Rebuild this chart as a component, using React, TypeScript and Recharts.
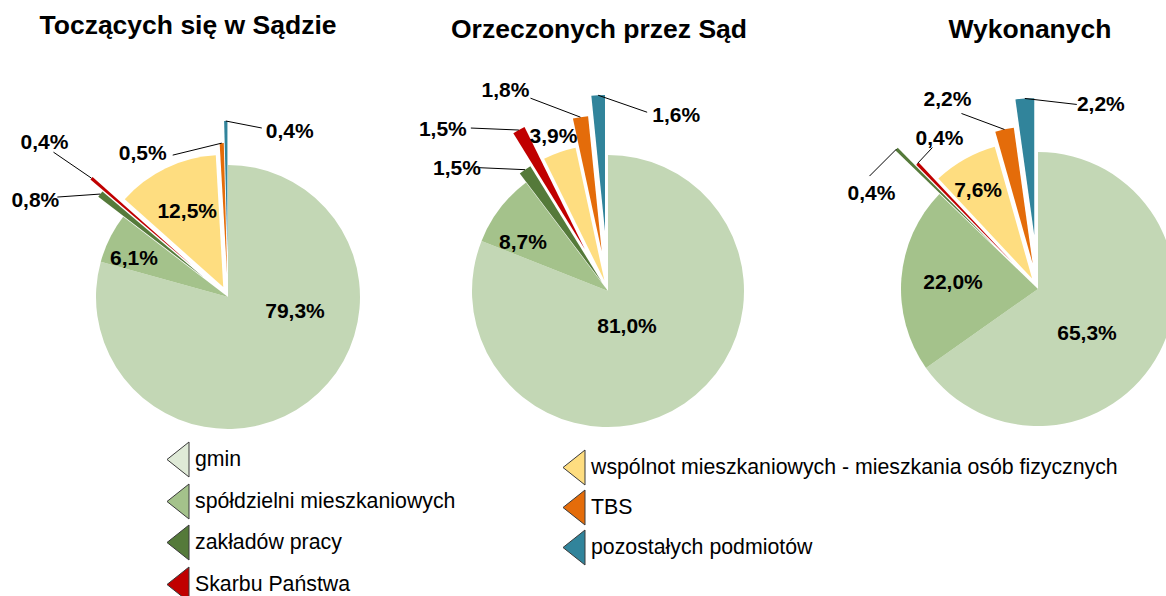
import React from 'react'
import { PieChart, Pie, Cell, Sector } from 'recharts'

const categories = [
  'gmin',
  'spółdzielni mieszkaniowych',
  'zakładów pracy',
  'Skarbu Państwa',
  'wspólnot mieszkaniowych - mieszkania osób fizycznych',
  'TBS',
  'pozostałych podmiotów',
]
const titles = ['Toczących się w Sądzie', 'Orzeczonych przez Sąd', 'Wykonanych']
const toczacych = [79.3, 6.1, 0.8, 0.4, 12.5, 0.5, 0.4]
const orzeczonych = [81.0, 8.7, 1.5, 1.5, 3.9, 1.8, 1.6]
const wykonanych = [65.3, 22.0, 0.4, 0.4, 7.6, 2.2, 2.2]

const COLORS = ['#c3d7b5', '#a4c28b', '#557a3a', '#c00000', '#fedd80', '#e46c0a', '#31849b']
const LEGEND_COLORS = ['#dfead7', '#a4c28b', '#557a3a', '#c00000', '#fedd80', '#e46c0a', '#31849b']

const FONT = '"Liberation Sans", Arial, sans-serif'

// placement of each pie, how far each slice is pulled out, and where its label sits
type LabelPos = { at: 'center' | 'tip'; dx: number; dy: number; line?: [number, number] }
type Layout = { cx: number; cy: number; r: number; titleX: number; titleY: number; explode: number[]; labels: LabelPos[] }

const layouts: Layout[] = [
  {
    cx: 228, cy: 297, r: 132, titleX: 188, titleY: 34,
    explode: [0, 0, 32, 49, 11, 22, 44],
    labels: [
      { at: 'center', dx: 67, dy: 13 },
      { at: 'center', dx: -94, dy: -40 },
      { at: 'tip', dx: -65, dy: 5, line: [-43, 3] },
      { at: 'tip', dx: -47, dy: -37, line: [-38, -26] },
      { at: 'center', dx: -36, dy: -77 },
      { at: 'tip', dx: -79, dy: 9, line: [-49, 12] },
      { at: 'tip', dx: 64, dy: 9, line: [36, 7] },
    ],
  },
  {
    cx: 608, cy: 291, r: 136, titleX: 599, titleY: 38,
    explode: [0, 0, 11, 48, 11, 40, 60],
    labels: [
      { at: 'center', dx: 19, dy: 34 },
      { at: 'center', dx: -85, dy: -50 },
      { at: 'tip', dx: -68, dy: -2, line: [-46, -2] },
      { at: 'tip', dx: -76, dy: -2, line: [-48, -2] },
      { at: 'tip', dx: -6, dy: -17 },
      { at: 'tip', dx: -75, dy: -28, line: [-50, -19] },
      { at: 'tip', dx: 78, dy: 19, line: [49, 17] },
    ],
  },
  {
    cx: 1038, cy: 289, r: 137, titleX: 1030, titleY: 38,
    explode: [0, 0, 62, 37, 12, 26, 54],
    labels: [
      { at: 'center', dx: 49, dy: 43 },
      { at: 'center', dx: -85, dy: -8 },
      { at: 'tip', dx: -25, dy: 43, line: [-27, 27] },
      { at: 'tip', dx: 22, dy: -26, line: [15, -16] },
      { at: 'center', dx: -54, dy: -89 },
      { at: 'tip', dx: -57, dy: -31, line: [-43, -16] },
      { at: 'tip', dx: 76, dy: 5, line: [52, 6] },
    ],
  },
]

const series = [toczacych, orzeczonych, wykonanych]
const RAD = Math.PI / 180

const fmt = (v: number) => v.toFixed(1).replace('.', ',') + '%'

// pulls a slice out along its middle angle
const makeShape = (explode: number[]) => (props: any) => {
  const idx = props.payload?.i ?? props.i ?? 0
  const e = explode[idx] || 0
  const a = props.midAngle * RAD
  return (
    <Sector
      cx={props.cx + e * Math.cos(a)}
      cy={props.cy - e * Math.sin(a)}
      innerRadius={0}
      outerRadius={props.outerRadius}
      startAngle={props.startAngle}
      endAngle={props.endAngle}
      fill={props.fill}
      stroke="none"
    />
  )
}

const makeLabel = (layout: Layout) => (props: any) => {
  const { cx, cy, midAngle, outerRadius, index, value } = props
  const e = layout.explode[index] || 0
  const a = midAngle * RAD
  const ax = cx + e * Math.cos(a)
  const ay = cy - e * Math.sin(a)
  const tx = ax + outerRadius * Math.cos(a)
  const ty = ay - outerRadius * Math.sin(a)
  const pos = layout.labels[index]
  const bx = pos.at === 'center' ? ax : tx
  const by = pos.at === 'center' ? ay : ty
  return (
    <g key={`lbl-${index}`}>
      {pos.line && (
        <line x1={tx} y1={ty} x2={tx + pos.line[0]} y2={ty + pos.line[1]} stroke="#000" strokeWidth={1} />
      )}
      <text
        x={bx + pos.dx}
        y={by + pos.dy}
        textAnchor="middle"
        dominantBaseline="central"
        fontFamily={FONT}
        fontWeight="bold"
        fontSize={21}
        fill="#000"
      >
        {fmt(value)}
      </text>
    </g>
  )
}

function Triangle({ color }: { color: string }) {
  return (
    <svg width={24} height={37} style={{ display: 'block', flex: 'none' }}>
      <polygon points="23,1 23,36 1,18.5" fill={color} stroke="#3a3a3a" strokeWidth={1} />
    </svg>
  )
}

function LegendColumn({ items, left, top, rowH }: { items: number[]; left: number; top: number; rowH: number }) {
  return (
    <div style={{ position: 'absolute', left, top }}>
      {items.map((i) => (
        <div key={i} style={{ display: 'flex', alignItems: 'center', height: rowH }}>
          <Triangle color={LEGEND_COLORS[i]} />
          <span style={{ marginLeft: 5, fontFamily: FONT, fontSize: 21.3, color: '#000', whiteSpace: 'nowrap' }}>
            {categories[i]}
          </span>
        </div>
      ))}
    </div>
  )
}

export default function App() {
  return (
    <div style={{ position: 'absolute', left: 0, top: 0, width: 1166, height: 596, background: '#fff', overflow: 'hidden' }}>
      <PieChart width={1166} height={440} margin={{ top: 0, right: 0, bottom: 0, left: 0 }}>
        {layouts.map((layout, k) => {
          const data = categories.map((name, i) => ({ name, value: series[k][i], i }))
          return (
            <Pie
              key={k}
              data={data}
              dataKey="value"
              nameKey="name"
              cx={layout.cx}
              cy={layout.cy}
              innerRadius={0}
              outerRadius={layout.r}
              startAngle={90}
              endAngle={-270}
              stroke="none"
              isAnimationActive={false}
              shape={makeShape(layout.explode)}
              label={makeLabel(layout)}
              labelLine={false}
            >
              {data.map((d) => (
                <Cell key={d.i} fill={COLORS[d.i]} />
              ))}
            </Pie>
          )
        })}
        {layouts.map((layout, k) => (
          <text
            key={`t${k}`}
            x={layout.titleX}
            y={layout.titleY}
            textAnchor="middle"
            fontFamily={FONT}
            fontWeight="bold"
            fontSize={26.5}
            fill="#000"
          >
            {titles[k]}
          </text>
        ))}
      </PieChart>
      <LegendColumn items={[0, 1, 2, 3]} left={166} top={439} rowH={41.5} />
      <LegendColumn items={[4, 5, 6]} left={562} top={447} rowH={40} />
    </div>
  )
}
